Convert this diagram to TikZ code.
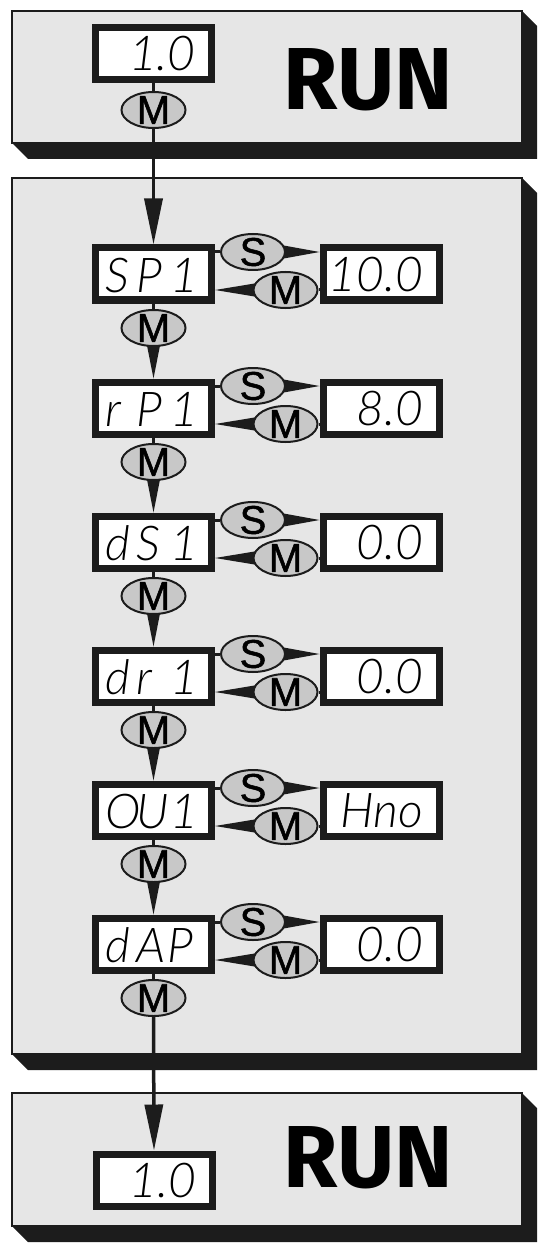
\documentclass[tikz,border=0pt]{standalone}
\usepackage{fontspec}
\setmainfont{Liberation Sans}
\newfontfamily\runfont{Fira Sans}
\newfontfamily\btnfont{Liberation Sans}[FakeBold=1.3]
\newcommand\trysegfont[2]{\IfFontExistsTF{#1}{\newfontfamily\segfont{#1}}{#2}}
\trysegfont{Lato Light Italic}{%
 \trysegfont{Lato-LightItalic.ttf}{%
  \trysegfont{Open Sans Light Italic}{%
   \trysegfont{OpenSans-LightItalic.ttf}{%
    \trysegfont{Noto Sans Light Italic}{%
     \trysegfont{NotoSans-LightItalic.ttf}{%
      \newfontfamily\segfontX{Fira Sans}\newcommand\segfont{\segfontX\itshape}}}}}}}
\usetikzlibrary{shapes.geometric,arrows.meta,calc}
\pgfdeclarelayer{back}\pgfdeclarelayer{conn}
\pgfsetlayers{back,conn,main}
\definecolor{panel}{RGB}{230,230,230}
\definecolor{btncol}{RGB}{200,200,200}
\definecolor{ink}{RGB}{28,28,28}
\newcommand\sgc[1]{\makebox[31pt][l]{#1}}
\newcommand\sgr[1]{\makebox[31pt][r]{#1}}
\tikzset{
  disp/.style={draw=ink, line width=7pt, fill=white, minimum width=116pt, minimum height=52pt, inner sep=0pt},
  btn/.style={ellipse, draw=ink, line width=2pt, fill=btncol, minimum width=64pt, minimum height=36pt, inner sep=-12pt, font=\btnfont\fontsize{40}{40}\selectfont},
  segL/.style={anchor=base west, inner sep=0pt, font=\segfont\fontsize{48}{48}\selectfont},
  segR/.style={anchor=base east, inner sep=0pt, font=\segfont\fontsize{48}{48}\selectfont},
  runtxt/.style={anchor=base, inner sep=0pt, font=\runfont\bfseries\fontsize{88}{88}\selectfont},
  link/.style={draw=ink, line width=3pt},
  flow/.style={draw=ink, line width=3.5pt, -{Triangle[length=46pt,width=18pt]}},
  wedge/.style={fill=ink}
}
\begin{document}
\begin{tikzpicture}[x=1pt,y=-1pt]
\useasboundingbox (0,0) rectangle (539,1246);
\begin{pgfonlayer}{back}
  \fill[white] (0,0) rectangle (539,1246);
  \foreach \t/\b in {11/143, 178/1054, 1093/1226} {
    \fill[ink] (522,\t) -- (537,\t+15) -- (537,\b+16) -- (28,\b+16) -- (12,\b) -- cycle;
    \filldraw[fill=panel, draw=ink, line width=2pt] (12,\t) rectangle (522,\b);
  }
\end{pgfonlayer}

% top RUN panel
\node[disp] (d0) at (153.5,53.5) {};
\node[segR] (t0) at ($(d0.east)+(-19,17.5)$) {1.0};
\node[btn] (m0) at (153.5,110) {M};
\node[runtxt] (run1) at (368.5,110) {RUN};
\begin{pgfonlayer}{conn}
  \draw[link] (d0.south) -- (m0.north);
\end{pgfonlayer}

% menu rows
\foreach \i/\L/\R in {1/{\sgc{S}\sgc{P}\sgr{1}}/10.0,
                      2/{\sgc{r}\sgc{P}\sgr{1}}/8.0,
                      3/{\sgc{d}\sgc{S}\sgr{1}}/0.0,
                      4/{\sgc{d}\sgc{r}\sgr{1}}/0.0,
                      5/{\sgc{O}\sgc{U}\sgr{1}}/Hno,
                      6/{\sgc{d}\sgc{A}\sgc{P}}/0.0} {
  \pgfmathsetmacro\cy{274+134*(\i-1)}
  \node[disp] (l\i) at (153.5,\cy) {};
  \node[disp] (r\i) at (381,\cy) {};
  \node[segL] (lt\i) at ($(l\i.west)+(13,18)$) {\L};
  \node[segR] (rt\i) at ($(r\i.east)+(-19,17)$) {\R};
  \node[btn] (s\i) at (253,\cy-22) {S};
  \node[btn] (mr\i) at (285.5,\cy+16) {M};
  \node[btn] (mv\i) at (153.5,\cy+54) {M};
  \begin{pgfonlayer}{conn}
    \draw[link] (l\i.east |- s\i) -- (s\i.west);
    \fill[wedge] ($(s\i.east)+(-5,-7)$) -- ($(s\i.east)+(-5,7)$) -- (s\i -| r\i.west) -- cycle;
    \fill[wedge] ($(mr\i.west)+(5,-7)$) -- ($(mr\i.west)+(5,7)$) -- (mr\i -| l\i.east) -- cycle;
    \draw[link] (mr\i.east) -- (mr\i -| r\i.west);
    \draw[link] (l\i.south) -- (mv\i.north);
  \end{pgfonlayer}
}
\begin{pgfonlayer}{conn}
  \foreach \i/\j in {1/2,2/3,3/4,4/5,5/6} {
    \fill[wedge] ($(mv\i.south)+(-7,-4)$) -- ($(mv\i.south)+(7,-4)$) -- (l\j.north) -- cycle;
  }
\end{pgfonlayer}

% bottom RUN panel
\node[disp] (dB) at (154,1180) {};
\node[segR] (tB) at ($(dB.east)+(-19,17.5)$) {1.0};
\node[runtxt] (run2) at (368.5,1187) {RUN};

\begin{pgfonlayer}{conn}
  \draw[flow] (m0.south) -- (l1.north);
  \draw[flow] (mv6.south) -- (dB.north);
\end{pgfonlayer}
\end{tikzpicture}
\end{document}
